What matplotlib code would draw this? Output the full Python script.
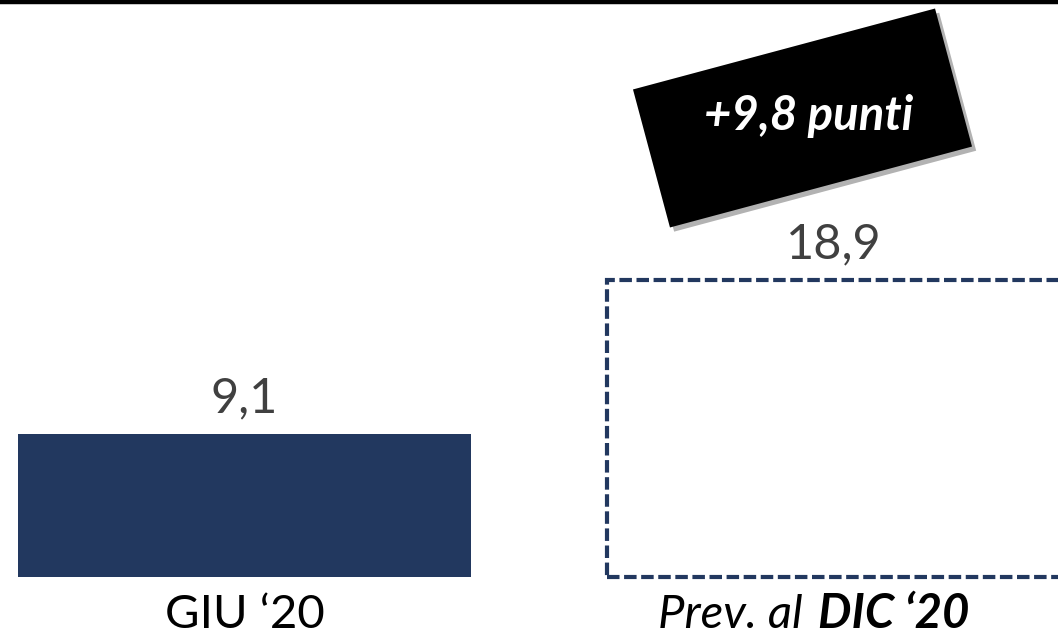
import matplotlib.pyplot as plt
import matplotlib.patheffects as pe
from matplotlib.patches import Rectangle
from matplotlib.transforms import Affine2D

# data
labels = ["GIU \u201820", "Prev. al DIC \u201820"]
values = [9.1, 18.9]
value_labels = ["9,1", "18,9"]
delta_label = "+9,8 punti"

navy = "#22385F"
font = "Lato"

fig = plt.figure(figsize=(10.58, 6.38), dpi=100)
ax = fig.add_axes([0, 0, 1, 1])
ax.set_xlim(-0.415, 1.381)
ax.set_ylim(-3.88, 36.73)
ax.axis("off")

w = 0.769
ax.bar(0, values[0], width=w, color=navy)
ax.bar(1, values[1], width=w, facecolor="none", edgecolor=navy,
       linewidth=3.0, linestyle=(0, (3.0, 1.1)))

for i, (v, s) in enumerate(zip(values, value_labels)):
    ax.annotate(s, (i, v), xytext=(0, 15.5), textcoords="offset points",
                ha="center", va="baseline", fontsize=35, color="#404040",
                family=font)

# x labels
ax.annotate(labels[0], (0, 0), xytext=(0, -37), textcoords="offset points",
            ha="center", va="baseline", fontsize=34, color="black", family=font)
ax.annotate("Prev. al", (1, 0), xytext=(-22, -37), textcoords="offset points",
            ha="right", va="baseline", fontsize=34, color="black", family=font,
            style="italic")
ax.annotate("DIC \u201820", (1, 0), xytext=(-11, -37), textcoords="offset points",
            ha="left", va="baseline", fontsize=34, color="black", family=font,
            style="italic", fontweight="bold")

# black rotated box
cx, cy, bw, bh = 8.025, 5.20, 3.127, 1.429
box = Rectangle((cx - bw / 2, cy - bh / 2), bw, bh, facecolor="black",
                transform=Affine2D().rotate_deg_around(cx, cy, 15) + fig.dpi_scale_trans,
                path_effects=[pe.SimplePatchShadow(offset=(3, -3), alpha=0.3), pe.Normal()])
fig.add_artist(box)
fig.text(0.764, 0.796, delta_label, ha="center", va="baseline", fontsize=34,
         color="white", family=font, style="italic", fontweight="bold")

# top line
fig.add_artist(plt.Line2D([0, 1], [0.9965, 0.9965], color="black", linewidth=3.2,
                          transform=fig.transFigure))

fig.savefig("out.png", dpi=100)
